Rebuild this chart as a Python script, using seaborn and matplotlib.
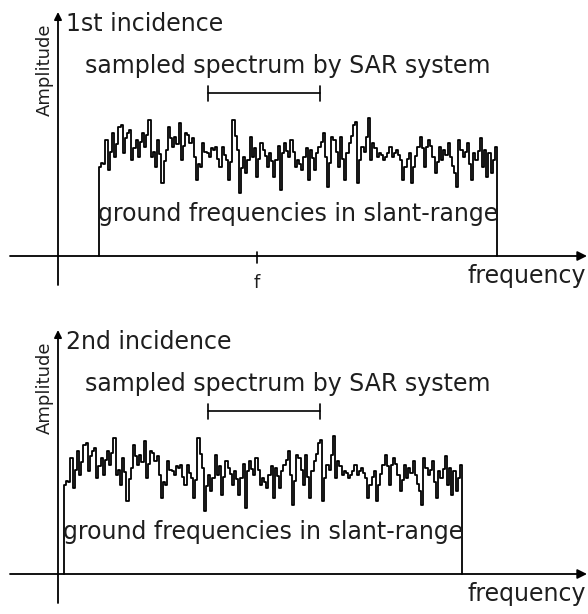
import matplotlib
matplotlib.use("Agg")
import matplotlib.pyplot as plt
import numpy as np
import pandas as pd
import seaborn as sns

# ---------------- data ----------------
panel_titles = ["1st incidence", "2nd incidence"]
bracket_label = "sampled spectrum by SAR system"
band_label = "ground frequencies in slant-range"
x_label = "frequency"
y_label = "Amplitude"
f_label = "f"

# spectrum band limits (frequency units, y-axis at 0)
band_start = [41, 6]
band_end = [439, 404]
# sampled window of the SAR system
window = [150, 262]
window_level = 163
f_position = 199

# spectrum amplitude (same spectrum in both panels)
amp = [89, 93, 92, 116, 86, 104, 123, 99, 112, 129,
       131, 103, 118, 123, 126, 96, 108, 116, 99, 114,
       123, 109, 121, 136, 99, 104, 89, 116, 102, 73,
       95, 106, 129, 118, 109, 119, 112, 133, 96, 110,
       123, 121, 113, 118, 99, 76, 92, 89, 113, 104,
       103, 99, 108, 106, 109, 97, 89, 109, 101, 96,
       76, 94, 136, 120, 106, 63, 88, 99, 83, 96,
       119, 99, 108, 79, 97, 113, 106, 100, 89, 103,
       95, 79, 96, 110, 66, 103, 113, 105, 99, 116,
       104, 89, 96, 92, 86, 99, 108, 76, 106, 98,
       86, 103, 109, 114, 123, 99, 69, 93, 119, 116,
       104, 89, 119, 97, 76, 103, 113, 120, 131, 134,
       73, 96, 109, 104, 119, 138, 96, 113, 108, 99,
       103, 101, 96, 99, 103, 109, 99, 103, 106, 101,
       96, 76, 89, 97, 103, 73, 89, 100, 109, 119,
       108, 89, 109, 116, 110, 99, 83, 94, 109, 96,
       106, 101, 113, 99, 90, 83, 69, 116, 106, 99,
       104, 113, 92, 76, 103, 96, 105, 118, 89, 106,
       79, 103, 83, 96, 109]

# ---------------- style ----------------
sns.set_theme(style="white")
plt.rcParams["font.family"] = ["DejaVu Sans"]
ink = "#000000"
txt = "#1e1e1e"
FS = 17

fig = plt.figure(figsize=(5.88, 6.14), dpi=100)
H = 614.0
# axes: [top pixel, bottom pixel, baseline pixel]
panels = [(0, 307, 256), (307, 614, 574)]

for k, (ptop, pbot, base) in enumerate(panels):
    ax = fig.add_axes([0, 1 - pbot / H, 1, (pbot - ptop) / H])
    ax.set_xlim(-58, 530)
    ax.set_ylim(base - pbot, base - ptop)
    ax.axis("off")

    # spectrum as steps
    s, e = band_start[k], band_end[k]
    w = (e - s) / len(amp)
    freq = [s] + [s + i * w for i in range(len(amp))] + [e, e]
    vals = [0] + amp + [amp[-1], 0]
    df = pd.DataFrame({"freq": freq, "amp": vals})
    sns.lineplot(data=df, x="freq", y="amp", sort=False, estimator=None,
                 drawstyle="steps-post", color=ink, lw=1.3, ax=ax)

    # axes arrows
    ax.annotate("", xy=(529, 0), xytext=(-48, 0),
                arrowprops=dict(arrowstyle="-|>", color=ink, lw=1.3,
                                mutation_scale=14, shrinkA=0, shrinkB=0))
    ax.annotate("", xy=(0, 244), xytext=(0, -29),
                arrowprops=dict(arrowstyle="-|>", color=ink, lw=1.3,
                                mutation_scale=11, shrinkA=0, shrinkB=0))

    # bracket for sampled spectrum
    ax.plot(window, [window_level, window_level], color=ink, lw=1.2)
    for xv in window:
        ax.plot([xv, xv], [window_level - 8, window_level + 7], color=ink, lw=1.2)

    # texts
    ax.text(8, 232, panel_titles[k], fontsize=FS, color=txt, ha="left", va="center")
    ax.text(287.5 - 58, 190.5, bracket_label, fontsize=FS, color=txt, ha="center", va="center")
    ax.text((s + e) / 2, 42.5, band_label, fontsize=FS, color=txt, ha="center", va="center")
    ax.text(528, -20, x_label, fontsize=FS, color=txt, ha="right", va="center")
    ax.text(-13, 186, y_label, fontsize=13, color=txt, ha="center", va="center",
            rotation=90)

    if k == 0:
        ax.plot([f_position, f_position], [-7, 4], color=ink, lw=1.2)
        ax.text(f_position, -27, f_label, fontsize=13, color=txt, ha="center", va="center")

fig.savefig("out.png", dpi=100)
